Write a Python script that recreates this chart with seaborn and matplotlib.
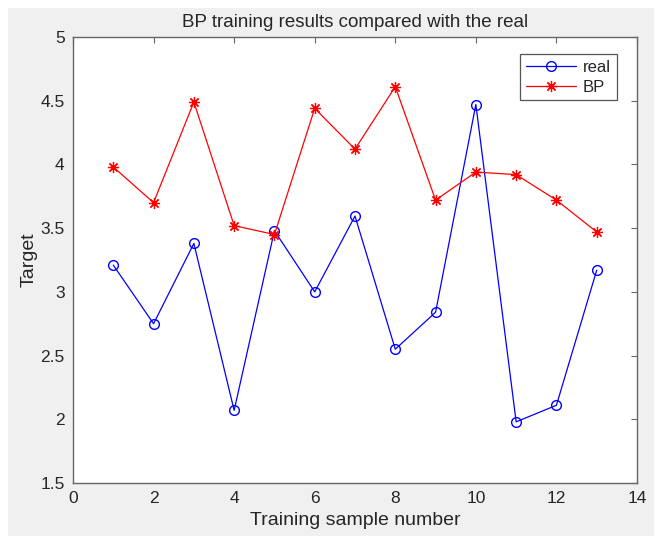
import matplotlib
matplotlib.use("Agg")
import matplotlib.pyplot as plt
import seaborn as sns
import pandas as pd
from matplotlib.patches import Rectangle

# data
sample = list(range(1, 14))
real = [3.21, 2.75, 3.38, 2.07, 3.48, 3.00, 3.595, 2.55, 2.84, 4.47, 1.98, 2.11, 3.17]
bp = [3.98, 3.70, 4.49, 3.52, 3.45, 4.44, 4.12, 4.61, 3.72, 3.94, 3.92, 3.72, 3.47]
xticks = [0, 2, 4, 6, 8, 10, 12, 14]
yticks = [1.5, 2, 2.5, 3, 3.5, 4, 4.5, 5]

df = pd.DataFrame({'sample': sample, 'real': real, 'BP': bp})

sns.set_style("white")
plt.rcParams['font.family'] = ['Liberation Sans', 'DejaVu Sans']

fig = plt.figure(figsize=(6.61, 5.36), dpi=100, facecolor='white')
# MATLAB-ish gray figure area with a thin white border
fig.patches.append(Rectangle((8 / 661, 0), 646 / 661, 528 / 536,
                             transform=fig.transFigure, facecolor='#f0f0f0',
                             edgecolor='none', zorder=-1))

ax = fig.add_axes([73 / 661, 53 / 536, 564 / 661, 446 / 536])
ax.set_facecolor('white')

sns.lineplot(data=df, x='sample', y='real', color='#0000ff', marker='o',
             markersize=7, markerfacecolor='none', markeredgecolor='#0000ff',
             markeredgewidth=1.0, linewidth=0.9, label='real', ax=ax)
sns.lineplot(data=df, x='sample', y='BP', color='#ff0000', marker=(8, 2, 0),
             markersize=8, markeredgecolor='#ff0000', markeredgewidth=0.9,
             linewidth=0.9, label='BP', ax=ax)

ax.set_xlim(0, 14)
ax.set_ylim(1.5, 5)
ax.set_xticks(xticks)
ax.set_yticks(yticks)
ax.set_xticklabels([str(t) for t in xticks])
ax.set_yticklabels([f"{t:g}" for t in yticks])

for s in ax.spines.values():
    s.set_color('#666666')
    s.set_linewidth(1.0)
ax.tick_params(direction='in', length=4, width=0.8, color='#666666',
               top=True, right=True, labelsize=12.5, labelcolor='#262626', pad=6)

ax.set_title('BP training results compared with the real', fontsize=13.5,
             color='#262626', pad=7)
ax.set_xlabel('Training sample number', fontsize=14, color='#262626', labelpad=4)
ax.set_ylabel('Target', fontsize=14, color='#262626', labelpad=2)

leg = ax.legend(loc='upper right', bbox_to_anchor=(0.97, 0.97), fancybox=False,
                framealpha=1, edgecolor='#555555', fontsize=12,
                handlelength=3.0, handletextpad=0.4, borderpad=0.35,
                labelspacing=0.3, borderaxespad=0.2)
leg.get_frame().set_linewidth(0.9)

fig.savefig('out.png', dpi=100, facecolor=fig.get_facecolor())
